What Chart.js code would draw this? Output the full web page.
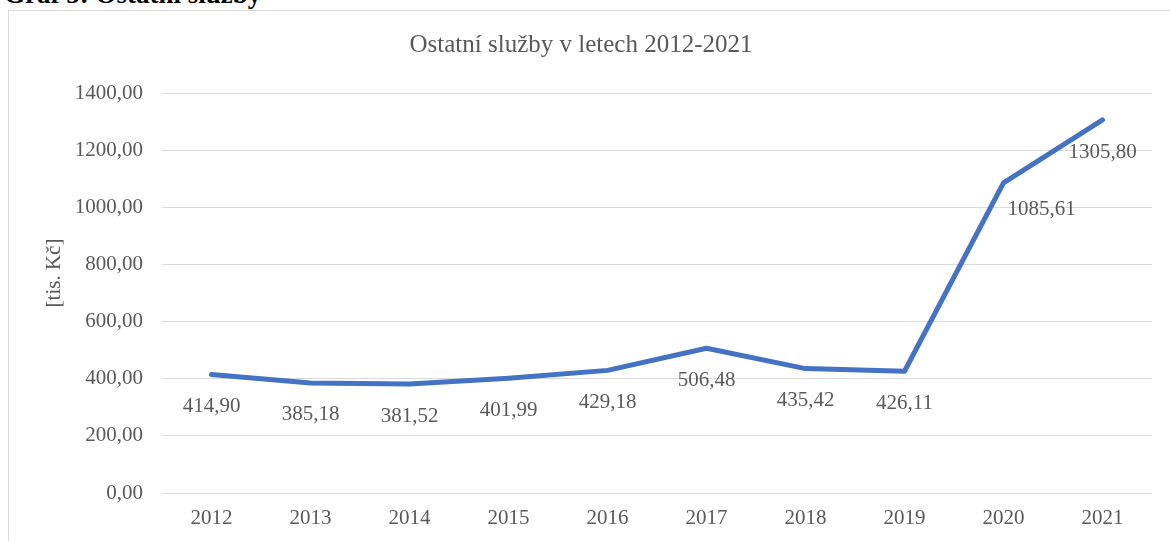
<!DOCTYPE html>
<html>
<head>
<meta charset="utf-8">
<script src="https://cdn.jsdelivr.net/npm/chart.js@4"></script>
<style>
  body { margin: 0; background: #fff; width: 1170px; height: 541px; overflow: hidden; position: relative; }
  #heading { position: absolute; left: 4px; top: -21px; font: bold 27px "Liberation Serif", "Times New Roman", serif; color: #000; white-space: nowrap; }
  #box { position: absolute; left: 8px; top: 10px; width: 1170px; height: 540px; border-left: 1px solid #d9d9d9; border-top: 1px solid #d9d9d9; }
  #wrap { position: absolute; left: 1px; top: 1px; width: 1161px; height: 530px; }
</style>
</head>
<body>
<div id="heading">Graf 5: Ostatní služby</div>
<div id="box"><div id="wrap"><canvas id="graf"></canvas></div></div>
<script>
var roky = ['2012', '2013', '2014', '2015', '2016', '2017', '2018', '2019', '2020', '2021'];
var sluzby = [414.90, 385.18, 381.52, 401.99, 429.18, 506.48, 435.42, 426.11, 1085.61, 1305.80];
var posunX = [0, 0, 0, 0, 0, 0, 0, 0, 38, 0];
var posunY = [32, 32, 32, 32, 32, 32, 32, 32, 27, 33];

var seda = '#595959';
var pismo = '"Liberation Serif", "Times New Roman", serif';

function cislo(v){
    return v.toFixed(2).replace('.', ',');
}

// popisky hodnot pod body
var popisky = {
    id: 'popisky',
    afterDatasetsDraw: function(chart){
        var ctx = chart.ctx;
        var meta = chart.getDatasetMeta(0);
        ctx.save();
        ctx.font = '21px ' + pismo;
        ctx.fillStyle = seda;
        ctx.textAlign = 'center';
        ctx.textBaseline = 'middle';
        meta.data.forEach(function(bod, i){
            ctx.fillText(cislo(sluzby[i]), bod.x + posunX[i], bod.y + posunY[i]);
        });
        ctx.restore();
    }
};

// popisek osy y
var osaY = {
    id: 'osaY',
    afterDraw: function(chart){
        var ctx = chart.ctx;
        ctx.save();
        ctx.translate(44, 261);
        ctx.rotate(-Math.PI / 2);
        ctx.font = '21px ' + pismo;
        ctx.fillStyle = seda;
        ctx.textAlign = 'center';
        ctx.textBaseline = 'middle';
        ctx.fillText('[tis. Kč]', 0, 0);
        ctx.restore();
    }
};

var ctx = document.getElementById('graf').getContext('2d');
new Chart(ctx, {
    type: 'line',
    data: {
        labels: roky,
        datasets: [{
            label: 'Ostatní služby',
            data: sluzby,
            borderColor: '#4472C4',
            borderWidth: 5,
            borderCapStyle: 'round',
            borderJoinStyle: 'round',
            pointRadius: 0,
            tension: 0,
            fill: false
        }]
    },
    options: {
        responsive: true,
        maintainAspectRatio: false,
        animation: false,
        layout: { padding: { left: 0, right: 19, top: 0, bottom: 0 } },
        plugins: {
            legend: { display: false },
            tooltip: { enabled: false },
            title: {
                display: true,
                text: 'Ostatní služby v letech 2012-2021',
                color: seda,
                font: { family: pismo, size: 25, weight: 'normal' },
                padding: { top: 18, bottom: 33 }
            }
        },
        scales: {
            x: {
                offset: true,
                grid: { display: false, drawTicks: false },
                border: { display: false },
                ticks: { color: seda, font: { family: pismo, size: 21 }, padding: 13 },
                afterFit: function(s){ s.height = 49; }
            },
            y: {
                min: 0,
                max: 1400,
                grid: { color: '#d9d9d9', lineWidth: 1, drawTicks: false },
                border: { display: false },
                ticks: {
                    stepSize: 200,
                    color: seda,
                    font: { family: pismo, size: 21 },
                    padding: 19,
                    callback: function(v){ return cislo(v); }
                },
                afterFit: function(s){ s.width = 152; }
            }
        }
    },
    plugins: [popisky, osaY]
});
</script>
</body>
</html>
